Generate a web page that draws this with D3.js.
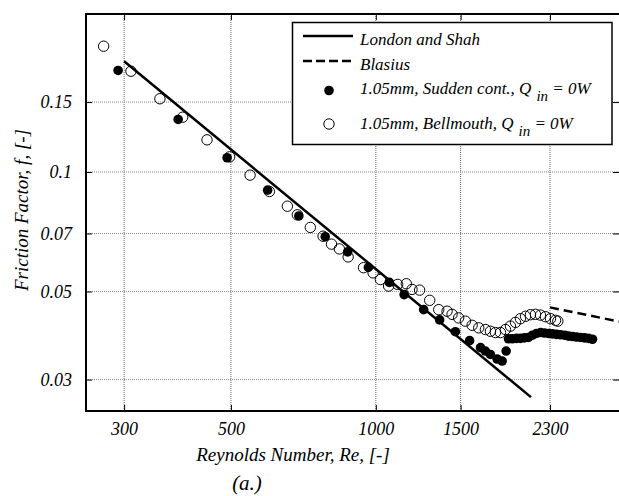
<!DOCTYPE html>
<html>
<head>
  <script src="https://d3js.org/d3.v7.min.js"></script>
  <style>
    svg text, svg tspan {
      font-family: "Liberation Serif", Tinos, "Times New Roman", serif !important;
      font-style: italic !important;
    }
  </style>
</head>
<body style="margin:0">
  <svg id="chart" width="619" height="496" font-family="Liberation Serif, serif"></svg>

  <script>
    // values
    const xTicks = [300, 500, 1000, 1500, 2300];
    const yTicks = [0.03, 0.05, 0.07, 0.1, 0.15];

    // London and Shah (laminar) and Blasius lines: end points
    const londonRe = [300, 2100];
    const londonF = [0.19, 0.0271];
    const blasiusRe = [2300, 3200];
    const blasiusF = [0.0456, 0.0420];

    // 1.05mm, Bellmouth (open circles)
    const bellRe = [272, 310, 356, 397, 446, 497, 548, 601, 655, 687, 731, 777, 809, 840, 876,
      943, 987, 1022, 1063, 1110, 1157, 1189, 1233, 1294, 1351, 1406, 1440, 1486, 1535, 1585,
      1636, 1689, 1730, 1772, 1815, 1859, 1904, 1950, 1997, 2046, 2095, 2146, 2198, 2251,
      2306, 2362, 2388];
    const bellF = [0.2074, 0.1794, 0.1529, 0.1374, 0.1205, 0.1092, 0.0982, 0.0893, 0.0820,
      0.0780, 0.0725, 0.0689, 0.0658, 0.0640, 0.0611, 0.0574, 0.0557, 0.0536, 0.0516, 0.0521,
      0.0523, 0.0506, 0.0504, 0.0475, 0.0450, 0.0446, 0.0438, 0.0429, 0.0421, 0.0411, 0.0405,
      0.0401, 0.0397, 0.0394, 0.0394, 0.0401, 0.0409, 0.0418, 0.0427, 0.0433, 0.0437, 0.0438,
      0.0436, 0.0432, 0.0427, 0.0423, 0.0421];

    // 1.05mm, Sudden contraction (filled circles)
    const suddenRe = [291.5, 388.5, 491, 596, 692, 785, 874, 965, 1067, 1145, 1257, 1357, 1463,
      1566, 1650, 1689, 1730, 1786, 1830, 1865, 1886, 1922, 1960, 1997, 2036, 2075, 2115,
      2156, 2198, 2240, 2284, 2328, 2373, 2419, 2466, 2513, 2562, 2611, 2662, 2713, 2766, 2819];
    const suddenF = [0.1802, 0.1356, 0.1086, 0.0900, 0.0775, 0.0687, 0.0629, 0.0575, 0.0527,
      0.0491, 0.0450, 0.0424, 0.0396, 0.0376, 0.0361, 0.0354, 0.0347, 0.0338, 0.0334, 0.0354,
      0.0380, 0.0380, 0.0381, 0.0381, 0.0382, 0.0383, 0.0388, 0.0392, 0.0394, 0.0393, 0.0392,
      0.0391, 0.0390, 0.0389, 0.0388, 0.0386, 0.0385, 0.0384, 0.0383, 0.0382, 0.0381, 0.0379];

    const pLeft = 86, pTop = 14, pRight = 619, pBottom = 411;
    const fontFam = "Liberation Serif, Tinos, Times New Roman, serif";

    const svg = d3.select("#chart");

    const x = d3.scaleLog().domain([250, 3200]).range([pLeft, pRight]);
    const y = d3.scaleLog().domain([0.025, 0.25]).range([pBottom, pTop]);

    // grid
    const grid = svg.append("g");
    grid.selectAll(".gx")
      .data(xTicks)
      .enter()
      .append("line")
      .attr("x1", d => x(d)).attr("x2", d => x(d))
      .attr("y1", pTop).attr("y2", pBottom)
      .attr("stroke", "#666")
      .attr("stroke-width", 1)
      .attr("stroke-dasharray", "1,1");
    grid.selectAll(".gy")
      .data(yTicks)
      .enter()
      .append("line")
      .attr("x1", pLeft).attr("x2", pRight)
      .attr("y1", d => y(d)).attr("y2", d => y(d))
      .attr("stroke", "#888")
      .attr("stroke-width", 1)
      .attr("stroke-dasharray", "1,1");

    // axes with inward ticks
    const xAxis = svg.append("g")
      .attr("transform", `translate(0,${pBottom})`)
      .call(d3.axisBottom(x).tickValues(xTicks).tickFormat(d3.format("d"))
        .tickSizeInner(-6).tickSizeOuter(0).tickPadding(11));
    const yAxis = svg.append("g")
      .attr("transform", `translate(${pLeft},0)`)
      .call(d3.axisLeft(y).tickValues(yTicks).tickFormat(d => String(d))
        .tickSizeInner(-6).tickSizeOuter(0).tickPadding(14));
    svg.append("g")
      .attr("transform", `translate(0,${pTop})`)
      .call(d3.axisTop(x).tickValues(xTicks).tickFormat("").tickSizeInner(-6).tickSizeOuter(0));
    svg.append("g")
      .attr("transform", `translate(${pRight},0)`)
      .call(d3.axisRight(y).tickValues(yTicks).tickFormat("").tickSizeInner(-6).tickSizeOuter(0));

    svg.selectAll(".domain").remove();
    svg.selectAll(".tick line").attr("stroke", "#000").attr("stroke-width", 1);
    [xAxis, yAxis].forEach(g => {
      g.attr("font-family", fontFam).attr("font-size", 18);
      g.selectAll("text")
        .attr("font-family", fontFam)
        .attr("font-style", "italic")
        .attr("font-size", 18)
        .attr("fill", "#000");
    });

    // frame
    svg.append("rect")
      .attr("x", pLeft).attr("y", pTop)
      .attr("width", pRight - pLeft + 2).attr("height", pBottom - pTop)
      .attr("fill", "none")
      .attr("stroke", "#000")
      .attr("stroke-width", 2);

    // model lines
    const line = d3.line().x(d => x(d[0])).y(d => y(d[1]));
    svg.append("path")
      .datum(d3.zip(londonRe, londonF))
      .attr("d", line)
      .attr("fill", "none")
      .attr("stroke", "#000")
      .attr("stroke-width", 2.5);
    svg.append("path")
      .datum(d3.zip(blasiusRe, blasiusF))
      .attr("d", line)
      .attr("fill", "none")
      .attr("stroke", "#000")
      .attr("stroke-width", 2.5)
      .attr("stroke-dasharray", "9,5");

    // markers
    svg.append("g").selectAll("circle")
      .data(d3.zip(suddenRe, suddenF))
      .enter()
      .append("circle")
      .attr("cx", d => x(d[0]))
      .attr("cy", d => y(d[1]))
      .attr("r", 4.8)
      .attr("fill", "#000");
    svg.append("g").selectAll("circle")
      .data(d3.zip(bellRe, bellF))
      .enter()
      .append("circle")
      .attr("cx", d => x(d[0]))
      .attr("cy", d => y(d[1]))
      .attr("r", 5.2)
      .attr("fill", "none")
      .attr("stroke", "#000")
      .attr("stroke-width", 1);

    // legend
    const lg = svg.append("g");
    lg.append("rect")
      .attr("x", 292.5).attr("y", 22.5)
      .attr("width", 319.5).attr("height", 122)
      .attr("fill", "#fff")
      .attr("stroke", "#000")
      .attr("stroke-width", 1.5);
    lg.append("line")
      .attr("x1", 303).attr("x2", 353).attr("y1", 36).attr("y2", 36)
      .attr("stroke", "#000").attr("stroke-width", 2.5);
    lg.append("line")
      .attr("x1", 303).attr("x2", 353).attr("y1", 61).attr("y2", 61)
      .attr("stroke", "#000").attr("stroke-width", 2.5)
      .attr("stroke-dasharray", "9,4");
    lg.append("circle")
      .attr("cx", 329).attr("cy", 90.5).attr("r", 4.8).attr("fill", "#000");
    lg.append("circle")
      .attr("cx", 329).attr("cy", 124).attr("r", 5.2)
      .attr("fill", "none").attr("stroke", "#000");

    const addText = (sel, size) => sel.append("text")
      .attr("font-family", fontFam)
      .attr("font-style", "italic")
      .attr("font-size", size)
      .attr("fill", "#000");

    const legendText = (yy, parts) => {
      const t = addText(lg, 17).attr("x", 360).attr("y", yy);
      parts.forEach(p => {
        const s = t.append("tspan").text(p.text);
        if (p.dy) s.attr("dy", p.dy);
        if (p.size) s.attr("font-size", p.size);
        if (p.dx) s.attr("dx", p.dx);
      });
    };
    legendText(45, [{ text: "London and Shah" }]);
    legendText(70, [{ text: "Blasius" }]);
    legendText(94, [{ text: "1.05mm, Sudden cont., Q" },
      { text: "in", dy: 7, size: 15, dx: 5 }, { text: " = 0W", dy: -7 }]);
    legendText(129, [{ text: "1.05mm, Bellmouth, Q" },
      { text: "in", dy: 7, size: 15, dx: 5 }, { text: " = 0W", dy: -7 }]);

    // axis titles
    addText(svg, 19)
      .attr("x", 293).attr("y", 461)
      .attr("text-anchor", "middle")
      .text("Reynolds Number, Re, [-]");
    addText(svg, 19)
      .attr("transform", "translate(28,210) rotate(-90)")
      .attr("text-anchor", "middle")
      .text("Friction Factor, f, [-]");
    addText(svg, 21)
      .attr("x", 247).attr("y", 490)
      .attr("text-anchor", "middle")
      .text("(a.)");
  </script>
</body>
</html>
